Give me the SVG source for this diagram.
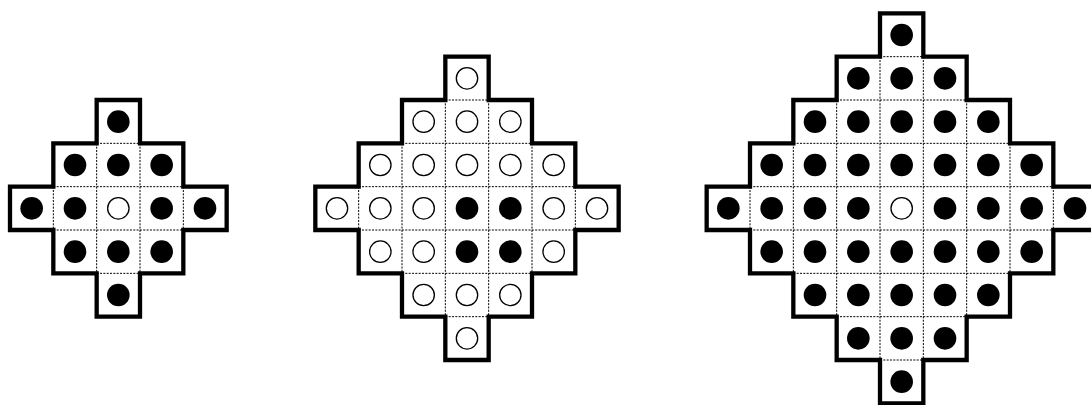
<svg xmlns="http://www.w3.org/2000/svg" width="1091" height="405" viewBox="0 0 1091 405">
<style>
.bg{fill:#fff}
.grid{fill:none;stroke:#000;stroke-width:1;stroke-dasharray:2 1.33}
.edge{fill:none;stroke:#000;stroke-width:4.3;stroke-linejoin:miter}
.on{fill:#000}
.off{fill:#fff;stroke:#000;stroke-width:1.3}
</style>
<rect class="bg" x="0" y="0" width="1091" height="405"/>
<g id="board1">
<path class="grid" d="M96.67,143.33H140M53.33,186.67H183.33M53.33,230H183.33M96.67,273.33H140M53.33,186.67V230M96.67,143.33V273.33M140,143.33V273.33M183.33,186.67V230"/>
<path class="edge" d="M96.67,100H140V143.33H183.33V186.67H226.67V230H183.33V273.33H140V316.67H96.67V273.33H53.33V230H10V186.67H53.33V143.33H96.67Z"/>
<circle class="on" cx="118.33" cy="121.67" r="11.3"/>
<circle class="on" cx="75" cy="165" r="11.3"/>
<circle class="on" cx="118.33" cy="165" r="11.3"/>
<circle class="on" cx="161.67" cy="165" r="11.3"/>
<circle class="on" cx="31.67" cy="208.33" r="11.3"/>
<circle class="on" cx="75" cy="208.33" r="11.3"/>
<circle class="off" cx="118.33" cy="208.33" r="10.7"/>
<circle class="on" cx="161.67" cy="208.33" r="11.3"/>
<circle class="on" cx="205" cy="208.33" r="11.3"/>
<circle class="on" cx="75" cy="251.67" r="11.3"/>
<circle class="on" cx="118.33" cy="251.67" r="11.3"/>
<circle class="on" cx="161.67" cy="251.67" r="11.3"/>
<circle class="on" cx="118.33" cy="295" r="11.3"/>
</g>
<g id="board2">
<path class="grid" d="M445.33,100H488.67M402,143.33H532M358.67,186.67H575.33M358.67,230H575.33M402,273.33H532M445.33,316.67H488.67M358.67,186.67V230M402,143.33V273.33M445.33,100V316.67M488.67,100V316.67M532,143.33V273.33M575.33,186.67V230"/>
<path class="edge" d="M445.33,56.67H488.67V100H532V143.33H575.33V186.67H618.67V230H575.33V273.33H532V316.67H488.67V360H445.33V316.67H402V273.33H358.67V230H315.33V186.67H358.67V143.33H402V100H445.33Z"/>
<circle class="off" cx="467" cy="78.33" r="10.7"/>
<circle class="off" cx="423.67" cy="121.67" r="10.7"/>
<circle class="off" cx="467" cy="121.67" r="10.7"/>
<circle class="off" cx="510.33" cy="121.67" r="10.7"/>
<circle class="off" cx="380.33" cy="165" r="10.7"/>
<circle class="off" cx="423.67" cy="165" r="10.7"/>
<circle class="off" cx="467" cy="165" r="10.7"/>
<circle class="off" cx="510.33" cy="165" r="10.7"/>
<circle class="off" cx="553.67" cy="165" r="10.7"/>
<circle class="off" cx="337" cy="208.33" r="10.7"/>
<circle class="off" cx="380.33" cy="208.33" r="10.7"/>
<circle class="off" cx="423.67" cy="208.33" r="10.7"/>
<circle class="on" cx="467" cy="208.33" r="11.3"/>
<circle class="on" cx="510.33" cy="208.33" r="11.3"/>
<circle class="off" cx="553.67" cy="208.33" r="10.7"/>
<circle class="off" cx="597" cy="208.33" r="10.7"/>
<circle class="off" cx="380.33" cy="251.67" r="10.7"/>
<circle class="off" cx="423.67" cy="251.67" r="10.7"/>
<circle class="on" cx="467" cy="251.67" r="11.3"/>
<circle class="on" cx="510.33" cy="251.67" r="11.3"/>
<circle class="off" cx="553.67" cy="251.67" r="10.7"/>
<circle class="off" cx="423.67" cy="295" r="10.7"/>
<circle class="off" cx="467" cy="295" r="10.7"/>
<circle class="off" cx="510.33" cy="295" r="10.7"/>
<circle class="off" cx="467" cy="338.33" r="10.7"/>
</g>
<g id="board3">
<path class="grid" d="M880,56.67H923.33M836.67,100H966.67M793.33,143.33H1010M750,186.67H1053.33M750,230H1053.33M793.33,273.33H1010M836.67,316.67H966.67M880,360H923.33M750,186.67V230M793.33,143.33V273.33M836.67,100V316.67M880,56.67V360M923.33,56.67V360M966.67,100V316.67M1010,143.33V273.33M1053.33,186.67V230"/>
<path class="edge" d="M880,13.33H923.33V56.67H966.67V100H1010V143.33H1053.33V186.67H1096.67V230H1053.33V273.33H1010V316.67H966.67V360H923.33V403.33H880V360H836.67V316.67H793.33V273.33H750V230H706.67V186.67H750V143.33H793.33V100H836.67V56.67H880Z"/>
<circle class="on" cx="901.67" cy="35" r="11.3"/>
<circle class="on" cx="858.33" cy="78.33" r="11.3"/>
<circle class="on" cx="901.67" cy="78.33" r="11.3"/>
<circle class="on" cx="945" cy="78.33" r="11.3"/>
<circle class="on" cx="815" cy="121.67" r="11.3"/>
<circle class="on" cx="858.33" cy="121.67" r="11.3"/>
<circle class="on" cx="901.67" cy="121.67" r="11.3"/>
<circle class="on" cx="945" cy="121.67" r="11.3"/>
<circle class="on" cx="988.33" cy="121.67" r="11.3"/>
<circle class="on" cx="771.67" cy="165" r="11.3"/>
<circle class="on" cx="815" cy="165" r="11.3"/>
<circle class="on" cx="858.33" cy="165" r="11.3"/>
<circle class="on" cx="901.67" cy="165" r="11.3"/>
<circle class="on" cx="945" cy="165" r="11.3"/>
<circle class="on" cx="988.33" cy="165" r="11.3"/>
<circle class="on" cx="1031.67" cy="165" r="11.3"/>
<circle class="on" cx="728.33" cy="208.33" r="11.3"/>
<circle class="on" cx="771.67" cy="208.33" r="11.3"/>
<circle class="on" cx="815" cy="208.33" r="11.3"/>
<circle class="on" cx="858.33" cy="208.33" r="11.3"/>
<circle class="off" cx="901.67" cy="208.33" r="10.7"/>
<circle class="on" cx="945" cy="208.33" r="11.3"/>
<circle class="on" cx="988.33" cy="208.33" r="11.3"/>
<circle class="on" cx="1031.67" cy="208.33" r="11.3"/>
<circle class="on" cx="1075" cy="208.33" r="11.3"/>
<circle class="on" cx="771.67" cy="251.67" r="11.3"/>
<circle class="on" cx="815" cy="251.67" r="11.3"/>
<circle class="on" cx="858.33" cy="251.67" r="11.3"/>
<circle class="on" cx="901.67" cy="251.67" r="11.3"/>
<circle class="on" cx="945" cy="251.67" r="11.3"/>
<circle class="on" cx="988.33" cy="251.67" r="11.3"/>
<circle class="on" cx="1031.67" cy="251.67" r="11.3"/>
<circle class="on" cx="815" cy="295" r="11.3"/>
<circle class="on" cx="858.33" cy="295" r="11.3"/>
<circle class="on" cx="901.67" cy="295" r="11.3"/>
<circle class="on" cx="945" cy="295" r="11.3"/>
<circle class="on" cx="988.33" cy="295" r="11.3"/>
<circle class="on" cx="858.33" cy="338.33" r="11.3"/>
<circle class="on" cx="901.67" cy="338.33" r="11.3"/>
<circle class="on" cx="945" cy="338.33" r="11.3"/>
<circle class="on" cx="901.67" cy="381.67" r="11.3"/>
</g>
</svg>
